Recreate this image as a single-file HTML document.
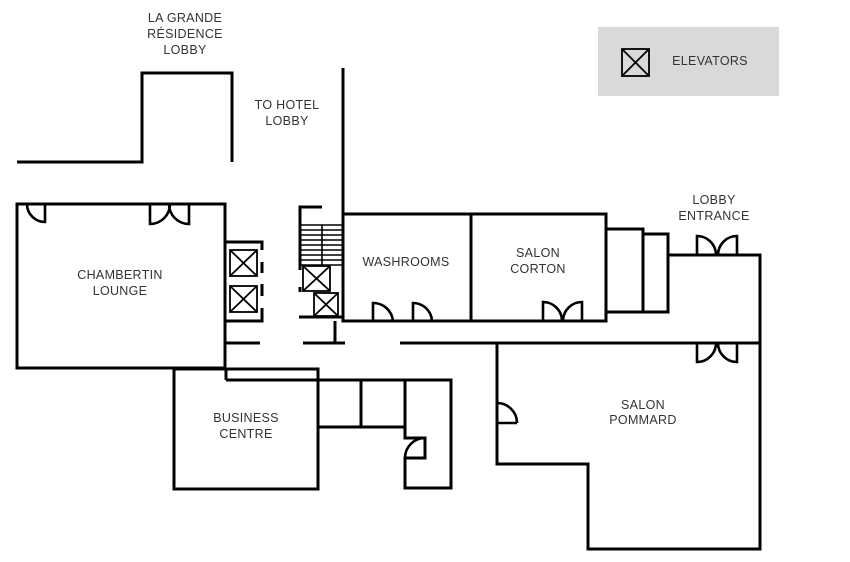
<!DOCTYPE html>
<html><head><meta charset="utf-8"><style>
html,body{margin:0;padding:0;background:#fff;}
svg{display:block}
text{font-family:"Liberation Sans",sans-serif;font-size:12.5px;fill:#333;text-anchor:middle;letter-spacing:0.3px}
</style></head><body>
<svg width="850" height="562" viewBox="0 0 850 562" xmlns="http://www.w3.org/2000/svg">
<g fill="none" stroke="#000" stroke-width="3">
<!-- top left -->
<polyline points="17,162 142,162 142,73 232,73 232,162"/>
<line x1="343" y1="68" x2="343" y2="321"/>
<!-- Chambertin -->
<rect x="17" y="204" width="208" height="164"/>
<line x1="226" y1="368" x2="226" y2="380"/>
<!-- elevators left -->
<polyline points="226,242 262,242 262,250"/>
<line x1="262" y1="262" x2="262" y2="273"/>
<line x1="262" y1="284" x2="262" y2="296"/>
<polyline points="262,308 262,321 226,321"/>
<line x1="226" y1="343" x2="260" y2="343"/>
<line x1="303" y1="343" x2="345" y2="343"/>
<line x1="400" y1="343" x2="760" y2="343"/>
<line x1="335" y1="321" x2="335" y2="343"/>
<!-- stairs bracket -->
<polyline points="322,207 300,207 300,270"/>
<line x1="300" y1="287" x2="300" y2="292"/>
<line x1="299" y1="317" x2="343" y2="317"/>
<!-- washrooms & corton -->
<rect x="343" y="214" width="263" height="107"/>
<line x1="471" y1="214" x2="471" y2="321"/>
<!-- steps -->
<polyline points="606,229 643,229 643,312 606,312"/>
<polyline points="643,234 668,234 668,312 643,312"/>
<polyline points="668,255 760,255 760,549 588,549 588,464 497,464 497,343"/>
<!-- business centre -->
<polyline points="226,380 451,380 451,488 405,488 405,458 425,458 425,438 405,438 405,380"/>
<rect x="174" y="369" width="144" height="120"/>
<polyline points="318,427 405,427"/>
<line x1="361" y1="380" x2="361" y2="427"/>
</g>
<!-- stairs treads -->
<g stroke="#000" stroke-width="1.6">
<line x1="300" y1="225" x2="343" y2="225"/><line x1="300" y1="230" x2="343" y2="230"/>
<line x1="300" y1="235" x2="343" y2="235"/><line x1="300" y1="240" x2="343" y2="240"/>
<line x1="300" y1="245" x2="343" y2="245"/><line x1="300" y1="250" x2="343" y2="250"/>
<line x1="300" y1="255" x2="343" y2="255"/><line x1="300" y1="260" x2="343" y2="260"/>
<line x1="300" y1="265" x2="343" y2="265"/>
<line x1="322" y1="225" x2="322" y2="265"/>
</g>
<!-- elevator boxes -->
<g fill="#fff" stroke="#000" stroke-width="1.8">
<rect x="230" y="250" width="27" height="26"/><path d="M230,250L257,276M257,250L230,276"/>
<rect x="230" y="286" width="27" height="26"/><path d="M230,286L257,312M257,286L230,312"/>
<rect x="303" y="266" width="27" height="25"/><path d="M303,266L330,291M330,266L303,291"/>
<rect x="314" y="293" width="24" height="23"/><path d="M314,293L338,316M338,293L314,316"/>
</g>
<!-- doors -->
<g fill="none" stroke="#000" stroke-width="2.6">
<path d="M45,204V222A18,18 0 0 1 27,204"/>
<path d="M150,204V224A20,20 0 0 0 170,204M189,204V224A20,20 0 0 1 169,204"/>
<path d="M373,321V303A20,20 0 0 1 393,321"/>
<path d="M413,321V303A19,19 0 0 1 432,321"/>
<path d="M543,321V302A19,19 0 0 1 562,321M582,321V302A19,19 0 0 0 563,321"/>
<path d="M697,255V236A19,19 0 0 1 716,255M737,255V236A19,19 0 0 0 718,255"/>
<path d="M697,343V362A19,19 0 0 0 716,343M737,343V362A19,19 0 0 1 718,343"/>
<path d="M517,423H497V403A20,20 0 0 1 517,423"/>
<path d="M425,438A20,20 0 0 0 405,458"/>
</g>
<!-- legend -->
<rect x="598" y="27" width="181" height="69" fill="#d9d9d9"/>
<g fill="none" stroke="#000" stroke-width="1.8"><rect x="622" y="49" width="27" height="27"/><path d="M622,49L649,76M649,49L622,76"/></g>
<text x="710" y="65" style="text-anchor:middle">ELEVATORS</text>
<text x="185" y="22">LA GRANDE</text><text x="185" y="38">RÉSIDENCE</text><text x="185" y="54">LOBBY</text>
<text x="287" y="109">TO HOTEL</text><text x="287" y="125">LOBBY</text>
<text x="120" y="279">CHAMBERTIN</text><text x="120" y="295">LOUNGE</text>
<text x="406" y="266">WASHROOMS</text>
<text x="538" y="257">SALON</text><text x="538" y="273">CORTON</text>
<text x="714" y="204">LOBBY</text><text x="714" y="220">ENTRANCE</text>
<text x="246" y="422">BUSINESS</text><text x="246" y="438">CENTRE</text>
<text x="643" y="409">SALON</text><text x="643" y="424">POMMARD</text>
</svg>
</body></html>
